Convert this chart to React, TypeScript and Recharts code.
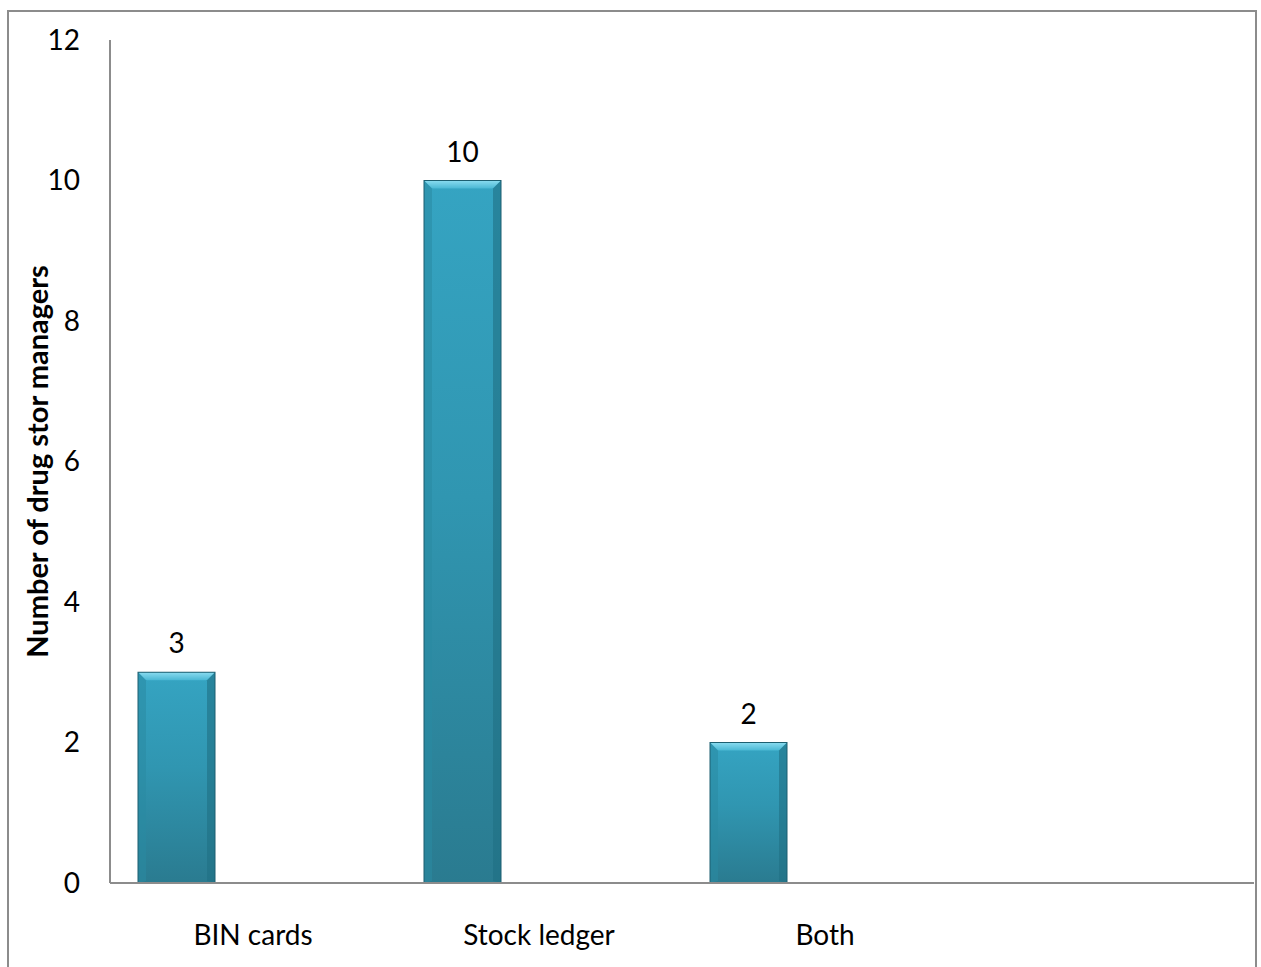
import React from 'react';
import { BarChart, Bar, XAxis, YAxis, LabelList } from 'recharts';

const categories = ['BIN cards', 'Stock ledger', 'Both', ''];
const managers = [3, 10, 2, null];
// the source chart has two more (empty) series in each cluster
const emptySeriesA = [null, null, null, null];
const emptySeriesB = [null, null, null, null];
const yTicks = [0, 2, 4, 6, 8, 10, 12];

const chartData = categories.map((name, i) => ({
  name,
  managers: managers[i],
  a: emptySeriesA[i],
  b: emptySeriesB[i],
}));

const FONT = 'Lato, "Open Sans", sans-serif';

const BevelBar = (props: any) => {
  const { x, y, width, height } = props;
  if (!height || height <= 0) return null;
  const b = 8;
  return (
    <g>
      <rect x={x} y={y} width={width} height={height} fill="url(#barFill)" />
      {/* top bevel */}
      <polygon
        points={`${x},${y} ${x + width},${y} ${x + width - b},${y + b} ${x + b},${y + b}`}
        fill="url(#bevelTop)"
      />
      {/* side shading */}
      <polygon
        points={`${x},${y} ${x + b},${y + b} ${x + b},${y + height - 2} ${x},${y + height}`}
        fill="#2a8aa3"
        opacity={0.55}
      />
      <polygon
        points={`${x + width},${y} ${x + width - b},${y + b} ${x + width - b},${y + height - 2} ${x + width},${y + height}`}
        fill="#1f6f84"
        opacity={0.6}
      />
      <rect x={x} y={y} width={width} height={height} fill="none" stroke="#1d5f70" strokeWidth={1} />
    </g>
  );
};

export default function App() {
  return (
    <div style={{ position: 'absolute', left: 0, top: 0, width: 1261, height: 967, overflow: 'hidden', background: '#fff' }}>
      <div
        style={{
          position: 'absolute',
          left: 7,
          top: 10,
          width: 1246,
          height: 1000,
          border: '2px solid #8c8c8c',
        }}
      />
      <div style={{ position: 'absolute', left: 0, top: 0 }}>
        <BarChart
          width={1261}
          height={967}
          data={chartData}
          margin={{ top: 40, right: 7, bottom: 0, left: 50 }}
          barGap={0}
        >
          <defs>
            <linearGradient id="barFill" x1="0" y1="0" x2="0" y2="1">
              <stop offset="0%" stopColor="#35a4c2" />
              <stop offset="45%" stopColor="#3096b1" />
              <stop offset="100%" stopColor="#2a7b90" />
            </linearGradient>
            <linearGradient id="bevelTop" x1="0" y1="0" x2="0" y2="1">
              <stop offset="0%" stopColor="#8adcf0" />
              <stop offset="100%" stopColor="#4ab8d4" />
            </linearGradient>
          </defs>
          <XAxis
            dataKey="name"
            interval={0}
            height={84}
            tickLine={false}
            tickSize={0}
            tickMargin={42}
            axisLine={{ stroke: '#8c8c8c', strokeWidth: 2 }}
            tick={{ fill: '#000', fontSize: 28, fontFamily: FONT }}
          />
          <YAxis
            domain={[0, 12]}
            ticks={yTicks}
            width={60}
            tickLine={false}
            tickSize={0}
            tickMargin={30}
            axisLine={{ stroke: '#8c8c8c', strokeWidth: 2 }}
            tick={{ fill: '#000', fontSize: 28, fontFamily: FONT }}
            label={{
              value: 'Number of drug stor managers',
              angle: -90,
              position: 'insideLeft',
              offset: -12,
              style: { textAnchor: 'middle', fontSize: 29, fontWeight: 'bold', fontFamily: FONT, fill: '#000' },
            }}
          />
          <Bar dataKey="managers" barSize={77} shape={<BevelBar />} isAnimationActive={false}>
            <LabelList
              dataKey="managers"
              position="top"
              offset={19}
              style={{ fill: '#000', fontSize: 28, fontFamily: FONT }}
            />
          </Bar>
          <Bar dataKey="a" barSize={77} fill="#c0504d" isAnimationActive={false} />
          <Bar dataKey="b" barSize={77} fill="#9bbb59" isAnimationActive={false} />
        </BarChart>
      </div>
    </div>
  );
}
